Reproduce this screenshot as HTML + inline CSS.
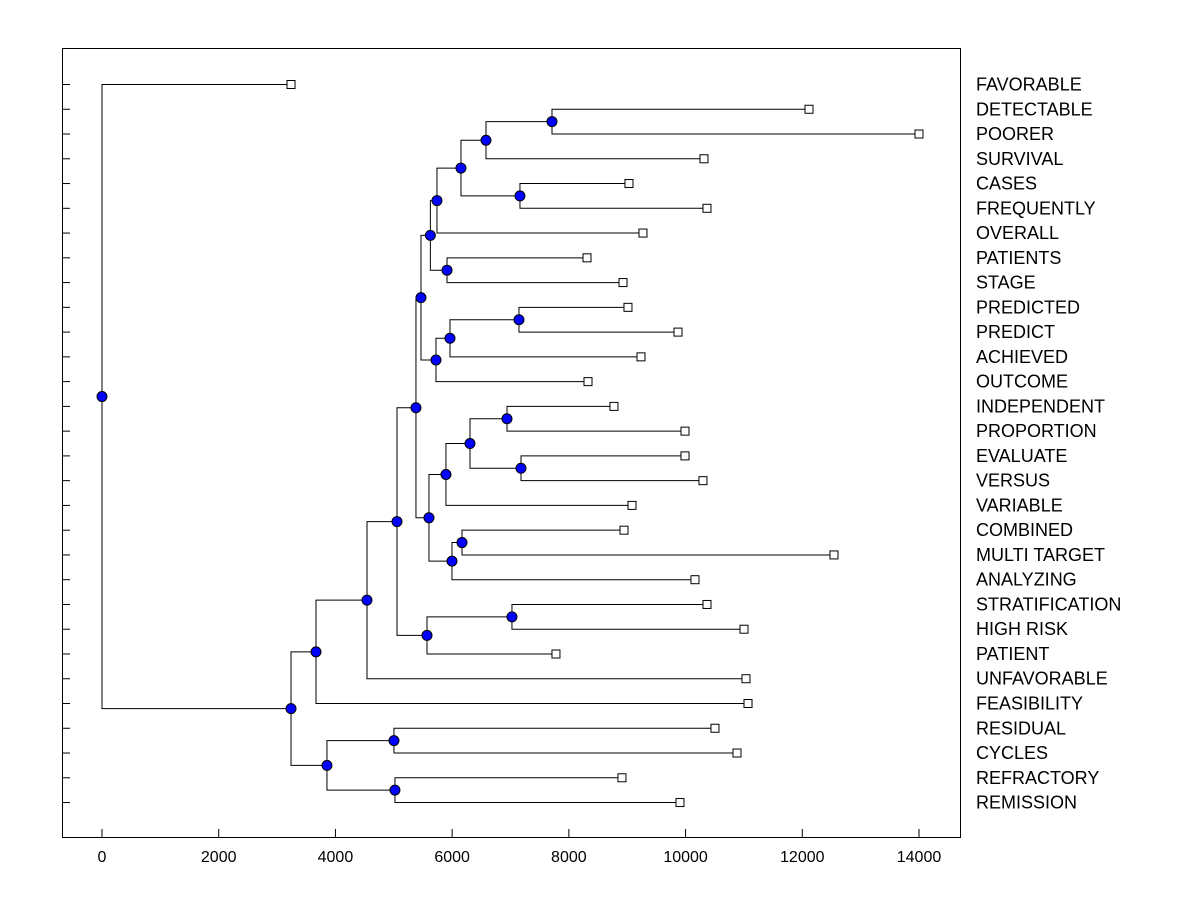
<!DOCTYPE html>
<html><head><meta charset="utf-8"><style>
html,body{margin:0;padding:0;background:#fff}
svg{display:block}
text{font-family:"Liberation Sans",Arial,sans-serif;font-size:16px;fill:#000}
text.leaf{font-size:18px}
</style></head><body>
<svg id="chart" width="1200" height="900" xmlns="http://www.w3.org/2000/svg">
<rect x="62.5" y="48.5" width="898" height="789" fill="none" stroke="#000" stroke-width="1"/>
</svg>
<script>
const leafNames=["FAVORABLE","DETECTABLE","POORER","SURVIVAL","CASES","FREQUENTLY","OVERALL","PATIENTS","STAGE","PREDICTED","PREDICT","ACHIEVED","OUTCOME","INDEPENDENT","PROPORTION","EVALUATE","VERSUS","VARIABLE","COMBINED","MULTI TARGET","ANALYZING","STRATIFICATION","HIGH RISK","PATIENT","UNFAVORABLE","FEASIBILITY","RESIDUAL","CYCLES","REFRACTORY","REMISSION"];
const leafValues=[3239,12115,14000,10315,9030,10367,9270,8311,8928,9013,9870,9236,8328,8773,9990,9990,10298,9082,8945,12543,10161,10367,11001,7779,11035,11070,10504,10881,8910,9904];
const mergeIds=["A","B","C","D","E","G","F","I","J","K","H","M","N","O","P","Q","R","S","L","T","U","V","W","X","Y","Z","AA","BB","ROOT"];
const mergeHeights=[7711,6580,7162,6151,5740,5912,5627,7145,5963,5723,5466,6940,7180,6306,5894,6169,5997,5603,5380,7025,5569,5055,4541,3667,5003,5020,3855,3239,0];
const mergeLeft=["L1","A","L4","B","D","L7","E","L9","I","J","F","L13","L15","M","O","L18","Q","P","H","L21","T","L","V","W","L26","L28","Y","X","L0"];
const mergeRight=["L2","L3","L5","C","L6","L8","G","L10","L11","L12","K","L14","L16","N","L17","L19","L20","R","S","L22","L23","U","L24","L25","L27","L29","Z","AA","BB"];
const xTicks=[0,2000,4000,6000,8000,10000,12000,14000];

const svg=document.getElementById('chart');
const NS='http://www.w3.org/2000/svg';
const xs=v=>102+v*(817/14000);
const ys=i=>84.5+i*24.76;
function mk(tag,attrs){const e=document.createElementNS(NS,tag);for(const k in attrs)e.setAttribute(k,attrs[k]);svg.appendChild(e);return e;}

xTicks.forEach(t=>{
  const l=mk('line',{x1:xs(t),x2:xs(t),y1:837,y2:829,stroke:'#000'});
  
  
  const tx=mk('text',{x:xs(t),y:862,'text-anchor':'middle'});
  tx.textContent=t;
  
  
});
leafNames.forEach((n,i)=>{
  const l=mk('line',{x1:62,x2:70,y1:ys(i),y2:ys(i),stroke:'#000'});
  
  
  const tx=mk('text',{x:976,y:ys(i)+6,'class':'leaf'});
  tx.textContent=n;
  
  
});

const pos={};
leafNames.forEach((n,i)=>{pos['L'+i]={x:xs(leafValues[i]),y:ys(i)};});
const nodes=[];
mergeIds.forEach((id,k)=>{
  const a=pos[mergeLeft[k]],b=pos[mergeRight[k]];
  const x=xs(mergeHeights[k]);
  const y=(a.y+b.y)/2;
  pos[id]={x,y};
  const p=mk('path',{d:`M${a.x},${a.y}H${x}V${b.y}H${b.x}`,fill:'none',stroke:'#000','stroke-width':1});
  
  
  nodes.push({x,y});
});
leafNames.forEach((n,i)=>{
  const p=pos['L'+i];
  const r=mk('rect',{x:p.x-4,y:p.y-4,width:8,height:8,fill:'#fff',stroke:'#000'});
  
  
});
nodes.forEach(n=>{
  const c=mk('circle',{cx:n.x,cy:n.y,r:5,fill:'#0000ff',stroke:'#000'});
  
  
});
</script>
</body></html>
